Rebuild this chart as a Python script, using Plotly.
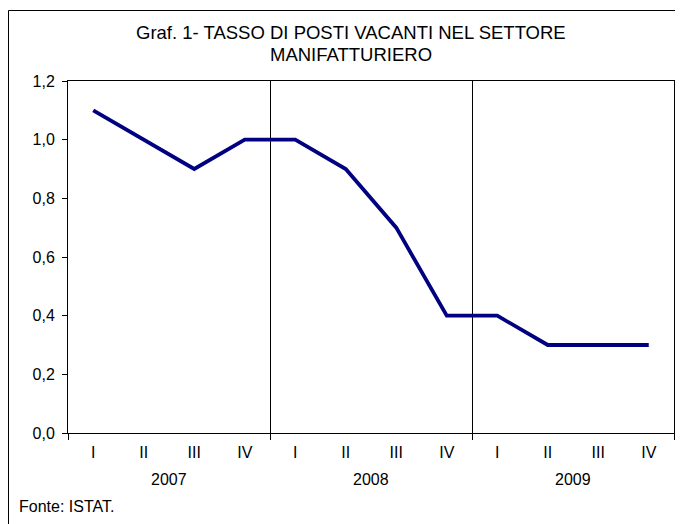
import plotly.graph_objects as go

quarters = ["I", "II", "III", "IV", "I", "II", "III", "IV", "I", "II", "III", "IV"]
years = ["2007", "2008", "2009"]
values = [1.1, 1.0, 0.9, 1.0, 1.0, 0.9, 0.7, 0.4, 0.4, 0.3, 0.3, 0.3]
y_ticks = [0.0, 0.2, 0.4, 0.6, 0.8, 1.0, 1.2]

xs = list(range(len(values)))
FONT = "Liberation Sans, Arial, sans-serif"

# page body has an 8px margin: work in reference pixel coords, shift by OFF
OFF = 8
W, H = 683 - OFF, 524 - OFF
PL, PR, PT, PB = 68, 674, 81, 433  # plot box in reference pixels
L, R, T, B = PL - OFF, W - (PR - OFF), PT - OFF, H - (PB - OFF)
ph = PB - PT
pw = PR - PL

def py(p):
    return (PB - p) / ph

def px(p):
    return (p - PL) / pw

fig = go.Figure()
fig.add_trace(go.Scatter(x=xs, y=values, mode="lines",
                         line=dict(color="#000080", width=3.8), hoverinfo="skip"))

fig.update_layout(
    width=W, height=H,
    margin=dict(l=L, r=R, t=T, b=B),
    paper_bgcolor="white", plot_bgcolor="white",
    separators=",.",
    showlegend=False,
    font=dict(family=FONT, size=16, color="black"),
    xaxis=dict(
        range=[-0.5, len(values) - 0.5],
        tickmode="array", tickvals=xs, ticktext=quarters,
        ticks="", showgrid=False, zeroline=False,
        showline=True, linecolor="black", linewidth=1, mirror=True,
        ticklabelstandoff=5,
        tickfont=dict(family=FONT, size=16),
        minor=dict(tickmode="array", tickvals=[-0.5, 3.5, 7.5, 11.5],
                   ticks="outside", ticklen=6, tickcolor="black",
                   showgrid=True, gridcolor="black", gridwidth=1),
    ),
    yaxis=dict(
        range=[0, 1.2], tickmode="array", tickvals=y_ticks, tickformat=".1f",
        ticks="outside", ticklen=5, tickcolor="black",
        showgrid=False, zeroline=False,
        showline=True, linecolor="black", linewidth=1, mirror=True,
        ticklabelstandoff=4,
        tickfont=dict(family=FONT, size=16),
    ),
)

# title lines
fig.add_annotation(text="Graf. 1- TASSO DI POSTI VACANTI NEL SETTORE", xref="paper", yref="paper",
                   x=px(351), y=py(33), showarrow=False, xanchor="center", yanchor="middle",
                   font=dict(family=FONT, size=18.5))
fig.add_annotation(text="MANIFATTURIERO", xref="paper", yref="paper",
                   x=px(351), y=py(55), showarrow=False, xanchor="center", yanchor="middle",
                   font=dict(family=FONT, size=18.5))

# year labels
for i, yr in enumerate(years):
    fig.add_annotation(text=yr, xref="x", yref="paper", x=i * 4 + 1.5, y=py(479),
                       showarrow=False, xanchor="center", yanchor="middle",
                       font=dict(family=FONT, size=16))

fig.add_annotation(text="Fonte: ISTAT.", xref="paper", yref="paper", x=px(17), y=py(506),
                   showarrow=False, xanchor="left", yanchor="middle",
                   font=dict(family=FONT, size=16))

# outer frame
fig.add_shape(type="rect", xref="paper", yref="paper",
              x0=px(8.5), x1=px(700), y0=py(540), y1=py(10.5),
              line=dict(color="black", width=1), fillcolor="rgba(0,0,0,0)", layer="below")

fig.write_html("out.html")
